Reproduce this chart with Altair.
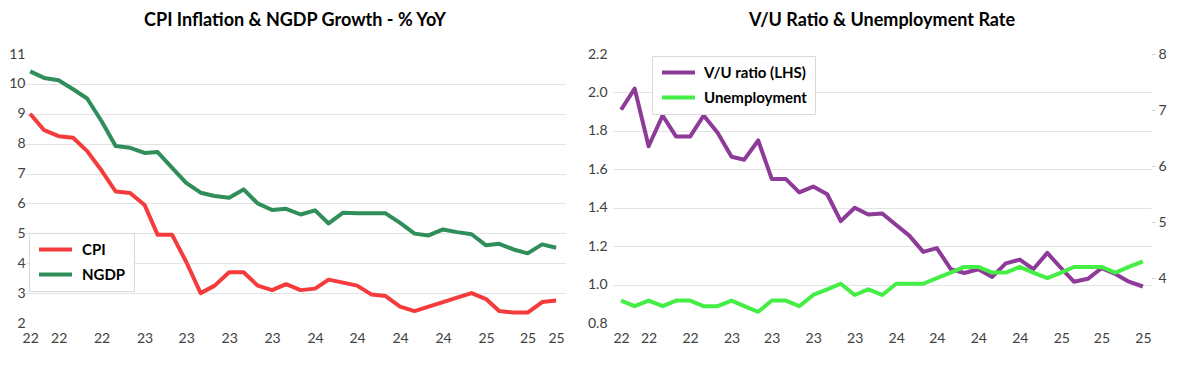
import altair as alt
import pandas as pd

# ---------------- data ----------------
months = pd.date_range("2022-06-01", "2025-08-01", freq="MS").strftime("%Y-%m-%d").tolist()  # Jun-22 .. Aug-25

cpi = [9.0, 8.45, 8.25, 8.2, 7.75, 7.1, 6.4, 6.35, 5.95, 4.95, 4.95, 4.05, 3.0, 3.25, 3.7, 3.7,
       3.25, 3.1, 3.3, 3.1, 3.15, 3.45, 3.35, 3.25, 2.95, 2.9, 2.55, 2.4, 2.55, 2.7, 2.85, 3.0,
       2.8, 2.4, 2.35, 2.35, 2.7, 2.75]
ngdp = [10.42, 10.2, 10.12, 9.82, 9.51, 8.75, 7.92, 7.86, 7.69, 7.72, 7.19, 6.69, 6.36, 6.25,
        6.19, 6.47, 6.0, 5.78, 5.82, 5.63, 5.77, 5.33, 5.69, 5.67, 5.67, 5.67, 5.35, 4.99, 4.93,
        5.13, 5.04, 4.97, 4.6, 4.65, 4.46, 4.33, 4.63, 4.52]
vu_ratio = [1.91, 2.02, 1.72, 1.88, 1.77, 1.77, 1.88, 1.79, 1.665, 1.65, 1.75, 1.55, 1.55, 1.48,
            1.51, 1.47, 1.33, 1.40, 1.365, 1.37, 1.31, 1.255, 1.17, 1.19, 1.08, 1.06, 1.08, 1.04,
            1.11, 1.13, 1.08, 1.165, 1.085, 1.015, 1.03, 1.085, 1.055, 1.015, 0.99]
unemployment = [3.6, 3.5, 3.6, 3.5, 3.6, 3.6, 3.5, 3.5, 3.6, 3.5, 3.4, 3.6, 3.6, 3.5, 3.7, 3.8,
                3.9, 3.7, 3.8, 3.7, 3.9, 3.9, 3.9, 4.0, 4.1, 4.2, 4.2, 4.1, 4.1, 4.2, 4.1, 4.0,
                4.1, 4.2, 4.2, 4.2, 4.1, 4.2, 4.3]

left_ticks_idx = [0, 2, 5, 8, 11, 14, 17, 20, 23, 26, 29, 32, 35, 37]
right_ticks_idx = [0, 2, 5, 8, 11, 14, 17, 20, 23, 26, 29, 32, 35, 38]

n_left = len(cpi)
n_right = len(vu_ratio)

left_df = pd.DataFrame({
    "month": months[:n_left] * 2,
    "series": ["CPI"] * n_left + ["NGDP"] * n_left,
    "value": cpi + ngdp,
})
vu_df = pd.DataFrame({"month": months[:n_right], "series": ["V/U ratio (LHS)"] * n_right, "value": vu_ratio})
un_df = pd.DataFrame({"month": months[:n_right], "series": ["Unemployment"] * n_right, "value": unemployment})


def dt(s):
    t = pd.Timestamp(s)
    return alt.DateTime(year=t.year, month=t.month, date=t.day, utc=True)


FONT = "Lato"
LABEL_COLOR = "#404040"
GRID = "#e3e3e3"


def x_enc(tick_idx, d0, d1):
    return alt.X(
        "month:T",
        title=None,
        scale=alt.Scale(type="utc", domain=[d0, d1]),
        axis=alt.Axis(values=[dt(months[i]) for i in tick_idx], format="%y", grid=False,
                      labelPadding=8, labelAngle=0, labelOverlap=False, labelFlush=False),
    )


def legend(x, y, offset):
    return alt.Legend(
        title=None, orient="none", legendX=x, legendY=y, symbolType="stroke", symbolSize=1089,
        symbolStrokeWidth=4, clipHeight=17, labelFontSize=15, labelFontWeight="bold",
        labelColor="#000000", labelFont=FONT, labelOffset=offset, rowPadding=8, padding=8,
        fillColor="white", strokeColor="#d9d9d9", labelLimit=300,
    )


def title(text):
    return alt.Title(text, fontSize=18, font=FONT, fontWeight="bold", color="#000000",
                     frame="group", anchor="middle", offset=17)


H = 269
W_LEFT = 540
W_RIGHT = 538

# ---------------- left panel ----------------
left = alt.Chart(left_df).mark_line(strokeWidth=4, strokeJoin="round").encode(
    x=x_enc(left_ticks_idx, dt("2022-05-21"), dt("2025-07-20")),
    y=alt.Y("value:Q", title=None,
            scale=alt.Scale(domain=[2, 11], nice=False, zero=False),
            axis=alt.Axis(values=list(range(2, 12)), labelPadding=0,
                          gridOpacity={"condition": {"test": "datum.value <= 2 || datum.value >= 11", "value": 0},
                                       "value": 1})),
    color=alt.Color("series:N",
                    scale=alt.Scale(domain=["CPI", "NGDP"], range=["#F53B3B", "#2F8E5A"]),
                    legend=legend(4, 179, 8)),
).properties(width=W_LEFT, height=H, title=title("CPI Inflation & NGDP Growth - % YoY"))

# ---------------- right panel ----------------
right_color = alt.Color(
    "series:N",
    scale=alt.Scale(domain=["V/U ratio (LHS)", "Unemployment"], range=["#8E3A99", "#45EE45"]),
    legend=legend(39, 2, 7),
)
xr = x_enc(right_ticks_idx, dt("2022-05-14"), dt("2025-08-19"))

vu_line = alt.Chart(vu_df).mark_line(strokeWidth=4, strokeJoin="round").encode(
    x=xr,
    y=alt.Y("value:Q", title=None,
            scale=alt.Scale(domain=[0.8, 2.2], nice=False, zero=False),
            axis=alt.Axis(orient="left", values=[0.8, 1.0, 1.2, 1.4, 1.6, 1.8, 2.0, 2.2], format=".1f",
                          labelPadding=6,
                          gridOpacity={"condition": {"test": "datum.value < 0.85 || datum.value > 2.15", "value": 0},
                                       "value": 1})),
    color=right_color,
)
un_line = alt.Chart(un_df).mark_line(strokeWidth=4, strokeJoin="round").encode(
    x=xr,
    y=alt.Y("value:Q", title=None,
            scale=alt.Scale(domain=[3.2, 8], nice=False, zero=False),
            axis=alt.Axis(orient="right", values=[4, 5, 6, 7, 8], format="d", labelPadding=3,
                          labelAlign="left", ticks=True, tickSize=4, tickColor="#d0d0d0",
                          gridOpacity={"condition": {"test": "datum.value >= 8", "value": 0},
                                       "value": 1})),
    color=right_color,
)
right = alt.layer(vu_line, un_line).resolve_scale(y="independent").properties(
    width=W_RIGHT, height=H, title=title("V/U Ratio & Unemployment Rate"))

chart = alt.hconcat(left, right, spacing=22).resolve_scale(color="independent").properties(
    padding={"left": 0, "top": 4, "right": 0, "bottom": 0},
    background="white",
).configure_view(stroke=None).configure_axis(
    labelFont=FONT, labelFontSize=14, labelColor=LABEL_COLOR, gridColor=GRID, gridWidth=1,
    domain=False, ticks=False,
).configure_title(font=FONT)

chart.save("out.html", embed_options={"renderer": "svg", "actions": False})
